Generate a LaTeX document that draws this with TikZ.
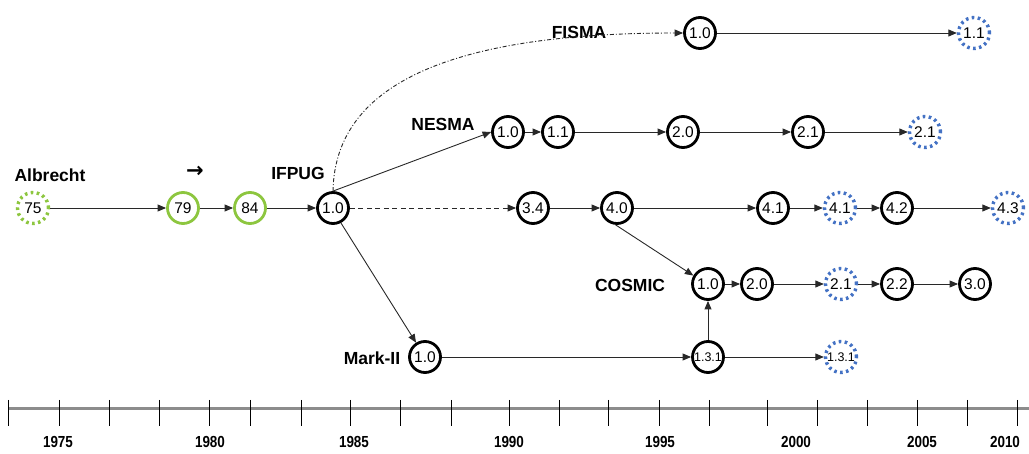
\documentclass[tikz,border=0pt]{standalone}
\usepackage{fontspec}
\setmainfont{Liberation Sans}
\newfontfamily\djv{DejaVu Sans}
\usetikzlibrary{arrows.meta}
\definecolor{lgreen}{RGB}{141,198,63}
\definecolor{dblue}{RGB}{68,114,196}
\definecolor{axisgray}{RGB}{140,140,140}
\definecolor{linegray}{RGB}{40,40,40}
\begin{document}
\begin{tikzpicture}[x=1pt,y=-1pt,
 ver/.style={circle,draw=black,line width=2.8pt,minimum size=31pt,inner sep=0pt,font=\fontsize{15.5}{16}\selectfont},
 gver/.style={ver,draw=lgreen},
 dver/.style={ver,draw=dblue,line width=3.4pt,dash pattern=on 2.6pt off 3.4pt},
 gdver/.style={dver,draw=lgreen},
 small/.style={font=\fontsize{12.5}{13}\selectfont},
 lbl/.style={font=\bfseries\fontsize{17.5}{19}\selectfont,inner sep=0pt},
 yr/.style={font=\bfseries\fontsize{16}{17}\selectfont,inner sep=0pt},
 arr/.style={draw=linegray,line width=0.9pt,-{Triangle[length=8.5pt,width=7pt]}},
 tick/.style={draw=black,line width=0.8pt},
]
\useasboundingbox (0,0) rectangle (1029,454);

% timeline
\draw[axisgray,line width=3pt] (8,409) -- (1029,409);
\foreach \x in {8,59,109,159,209,250,301,350,400,451,509,559,608,659,709,767,817,867,917,967,1017}
  \draw[tick] (\x,400) -- (\x,426);
\node[yr] (y75) at (58,442) {\scalebox{0.84}[1]{1975}};
\node[yr] (y80) at (210,442) {\scalebox{0.84}[1]{1980}};
\node[yr] (y85) at (354,442) {\scalebox{0.84}[1]{1985}};
\node[yr] (y90) at (509,442) {\scalebox{0.84}[1]{1990}};
\node[yr] (y95) at (660,442) {\scalebox{0.84}[1]{1995}};
\node[yr] (y00) at (796,442) {\scalebox{0.84}[1]{2000}};
\node[yr] (y05) at (922,442) {\scalebox{0.84}[1]{2005}};
\node[yr] (y10) at (1005,442) {\scalebox{0.84}[1]{2010}};

% labels
\node[lbl] (lalb) at (50,175) {Albrecht};
\node[font=\djv\bfseries\fontsize{21}{22}\selectfont,inner sep=0pt] (larr) at (195,172) {→};
\node[lbl] (lifp) at (298,173) {IFPUG};
\node[lbl] (lnes) at (443,124) {NESMA};
\node[lbl] (lfis) at (579,32) {FISMA};
\node[lbl] (lcos) at (630,285) {COSMIC};
\node[lbl] (lmk) at (372,358) {Mark-II};

% IFPUG row
\node[gdver] (a75) at (33,208) {75};
\node[gver] (a79) at (183,208) {79};
\node[gver] (a84) at (250,208) {84};
\node[ver] (i10) at (333,208) {1.0};
\node[ver] (i34) at (533,208) {3.4};
\node[ver] (i40) at (617,208) {4.0};
\node[ver] (i41) at (773,208) {4.1};
\node[dver] (i41b) at (840,208) {4.1};
\node[ver] (i42) at (897,208) {4.2};
\node[dver] (i43) at (1008,208) {4.3};

% NESMA row
\node[ver] (n10) at (508,132) {1.0};
\node[ver] (n11) at (558,132) {1.1};
\node[ver] (n20) at (683,132) {2.0};
\node[ver] (n21) at (808,132) {2.1};
\node[dver] (n21b) at (925,132) {2.1};

% FISMA row
\node[ver] (f10) at (700,33) {1.0};
\node[dver] (f11) at (974,33) {1.1};

% COSMIC row
\node[ver] (c10) at (708,284) {1.0};
\node[ver] (c20) at (757,284) {2.0};
\node[dver] (c21) at (841,284) {2.1};
\node[ver] (c22) at (897,284) {2.2};
\node[ver] (c30) at (975,284) {3.0};

% Mark-II row
\node[ver] (m10) at (425,357) {1.0};
\node[ver,small] (m131) at (708,357) {1.3.1};
\node[dver,small] (m131b) at (841,357) {1.3.1};

% connectors
\draw[arr] (a75) -- (a79);
\draw[arr] (a79) -- (a84);
\draw[arr] (a84) -- (i10);
\draw[arr,dash pattern=on 5pt off 3.5pt] (i10) -- (i34);
\draw[arr] (i34) -- (i40);
\draw[arr] (i40) -- (i41);
\draw[arr] (i41) -- (i41b);
\draw[arr] (i41b) -- (i42);
\draw[arr] (i42) -- (i43);

\draw[arr] (i10.north) -- (n10.west);
\draw[arr] (n10) -- (n11);
\draw[arr] (n11) -- (n20);
\draw[arr] (n20) -- (n21);
\draw[arr] (n21) -- (n21b);

\coordinate (cc1) at (335,80);
\coordinate (cc2) at (460,33);
\draw[arr,dash pattern=on 4pt off 2pt on 1pt off 2pt] (i10.north) .. controls (cc1) and (cc2) .. (f10.west);
\draw[arr] (f10) -- (f11);

\draw[arr] (i40.265) -- (c10.150);
\draw[arr] (c10) -- (c20);
\draw[arr] (c20) -- (c21);
\draw[arr] (c21) -- (c22);
\draw[arr] (c22) -- (c30);

\draw[arr] (i10.-62) -- (m10.122);
\draw[arr] (m10) -- (m131);
\draw[arr] (m131) -- (m131b);
\draw[arr] (m131) -- (c10);
\end{tikzpicture}
\end{document}
